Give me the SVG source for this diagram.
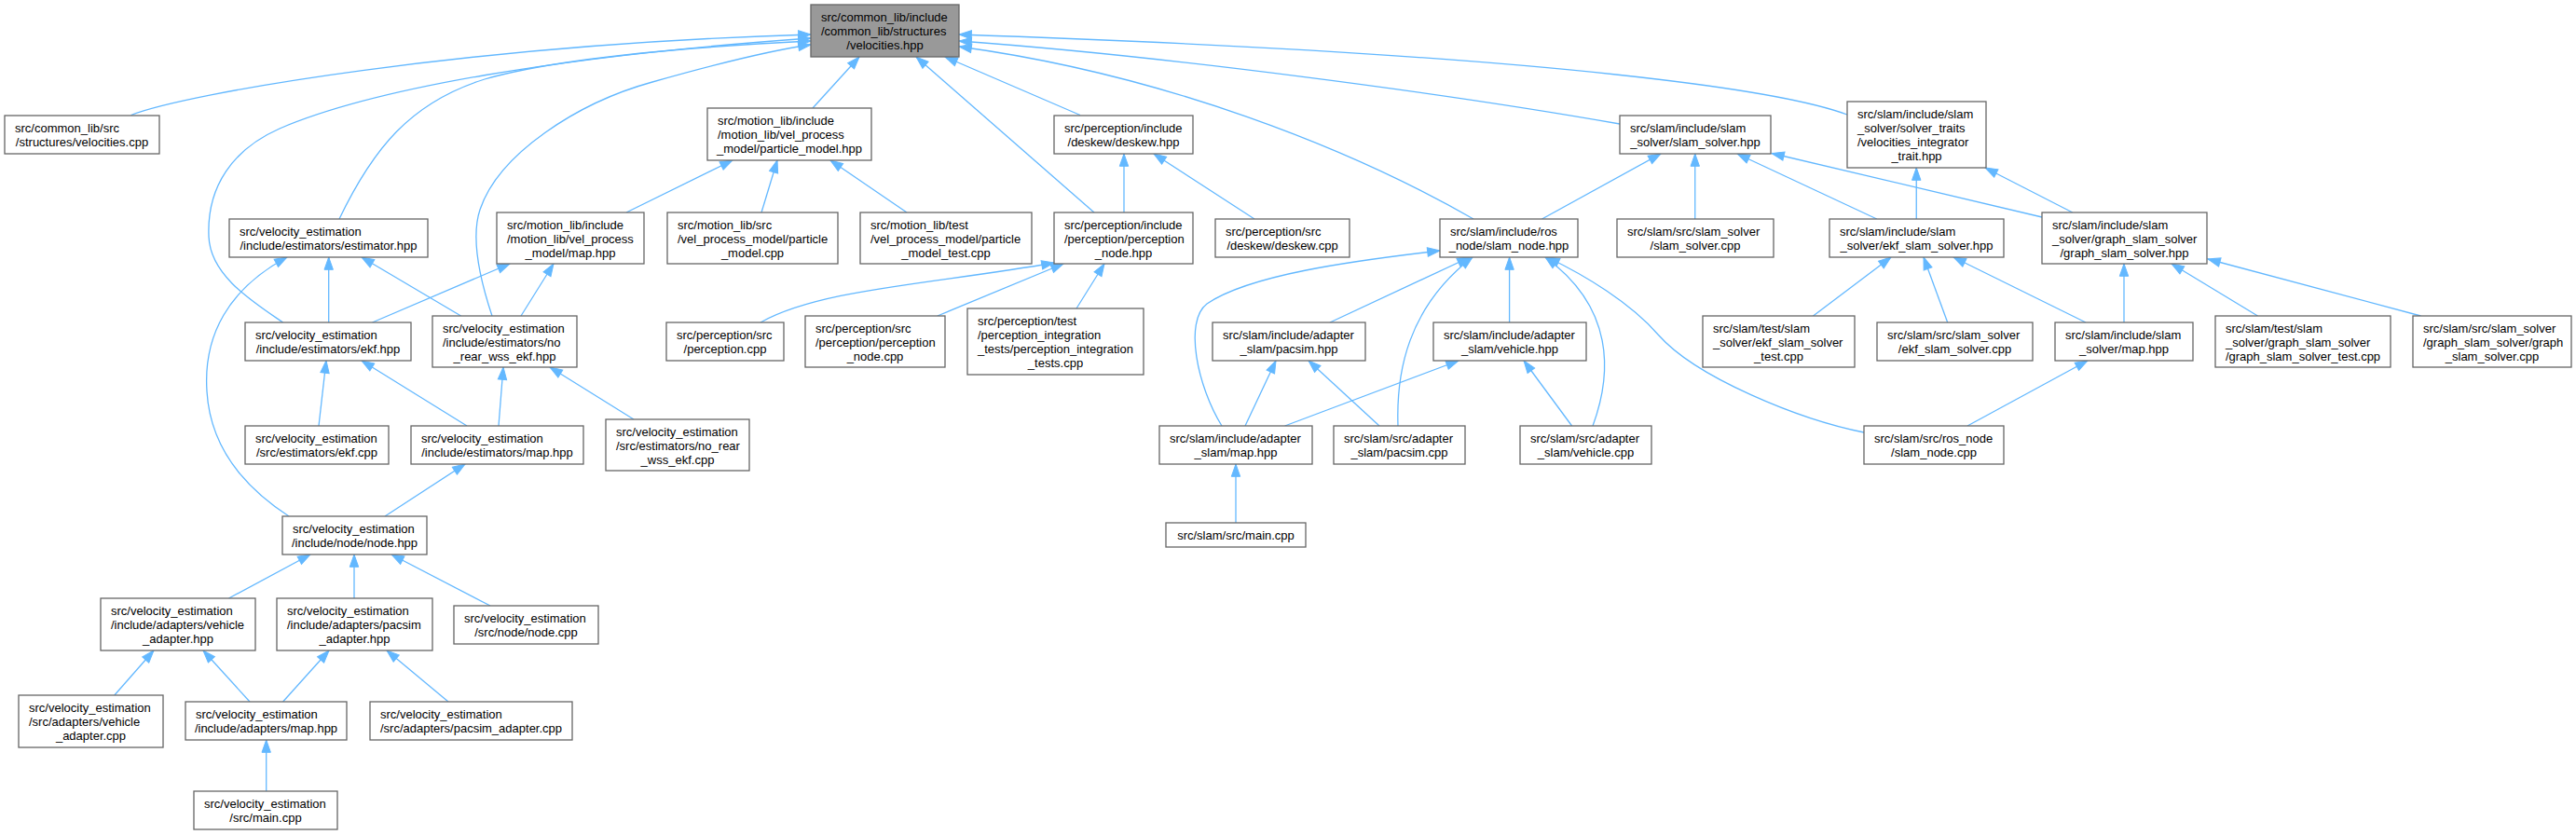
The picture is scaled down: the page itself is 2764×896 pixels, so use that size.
<svg xmlns="http://www.w3.org/2000/svg" width="2764" height="896" viewBox="0 0 2764 896">
<defs>
<style>
.n rect{fill:#ffffff;stroke:#666666;stroke-width:1.3}
.root rect{fill:#999999}
text{font-family:"Liberation Sans",Arial,Helvetica,sans-serif;font-size:13px;fill:#000000}
.c{text-anchor:middle}
.e path{fill:none;stroke:#63b8ff;stroke-width:1.3;marker-end:url(#ah)}
</style>
<marker id="ah" markerUnits="userSpaceOnUse" viewBox="0 0 13.3 9.4" markerWidth="13.3" markerHeight="9.4" refX="13.3" refY="4.7" orient="auto" overflow="visible"><path d="M0,0 L13.3,4.7 L0,9.4 Z" fill="#63b8ff" stroke="#63b8ff" stroke-width="1"/></marker>
</defs>
<rect width="2764" height="896" fill="#ffffff"/>
<g id="edges" class="e">
<path d="M140.6,123.5 C200,100 500,48 870,37"/>
<path d="M303.6,346 C270,323 225,295 224,253 C222,200 250,160 300,138 C400,95 600,60 870,41"/>
<path d="M364,235 C400,160 440,110 520,85 C600,62 750,50 870,44"/>
<path d="M528,339 C515,300 505,255 515,225 C535,165 620,110 700,88 C760,71 820,55 870,48"/>
<path d="M872,116 L922,61"/>
<path d="M1174,228 L983,61"/>
<path d="M1159,123.5 L1014,61"/>
<path d="M1581,235 C1450,160 1250,80 1029,50"/>
<path d="M1738,133 C1550,100 1250,60 1029,44"/>
<path d="M1982,123 C1920,100 1700,60 1029,37"/>
<path d="M672,228 L786,172"/>
<path d="M817,228 L834,172"/>
<path d="M973,228 L891,172"/>
<path d="M1206,228 L1206,165"/>
<path d="M1346,235 L1238,165"/>
<path d="M352.7,346 L352.7,276"/>
<path d="M494.6,339 L388,276"/>
<path d="M310,554 C250,515 225,470 222,420 C218,360 245,310 308,276"/>
<path d="M399.5,346 L547,283"/>
<path d="M559,339 L594,283"/>
<path d="M342,457 L350,387"/>
<path d="M501,457 L388,387"/>
<path d="M535,457 L540,394"/>
<path d="M680,450 L590,394"/>
<path d="M413,554 L499,498"/>
<path d="M245.5,642 L333,595"/>
<path d="M380,642 L380,595"/>
<path d="M526,650 L420,595"/>
<path d="M122.8,746 L165,698"/>
<path d="M268,753 L218,698"/>
<path d="M303.6,753 L353,698"/>
<path d="M481,753 L415,698"/>
<path d="M285.7,849 L285.7,794"/>
<path d="M816,346 C880,310 1000,305 1131,282"/>
<path d="M1005.8,339 L1141,283"/>
<path d="M1155,331 L1185,283"/>
<path d="M1654.5,235 L1782,165"/>
<path d="M1818.75,235 L1818.75,165"/>
<path d="M2013.8,235 L1864,165"/>
<path d="M2191,233 L1901,164.5"/>
<path d="M2056.25,235 L2056.25,180"/>
<path d="M2223.8,228 L2130,180"/>
<path d="M1311,457 C1285,415 1270,345 1295,326 C1340,295 1450,280 1545,269"/>
<path d="M1427,346 L1577,276"/>
<path d="M1500,457 C1498,400 1510,330 1580,276"/>
<path d="M1619.6,346 L1619.6,276"/>
<path d="M1709,457 C1730,400 1732,330 1658,276"/>
<path d="M2000,464 C1930,450 1820,405 1780,360 C1750,325 1700,295 1660,276"/>
<path d="M1336,457 L1369,387"/>
<path d="M1480,457 L1404,387"/>
<path d="M1378.6,457 L1565,387"/>
<path d="M1686.6,457 L1635,387"/>
<path d="M1326,561 L1326,498"/>
<path d="M1945.5,339 L2029,276"/>
<path d="M2089.7,346 L2064,276"/>
<path d="M2238,346 L2096,276"/>
<path d="M2279,346 L2279,283"/>
<path d="M2422.5,339 L2330,283"/>
<path d="M2597.5,339 L2369,278"/>
<path d="M2111,457 L2240,387"/>
</g>
<g id="root" class="n root"><rect x="870" y="5" width="159" height="56"/><text x="881" y="23">src/common_lib/include</text><text x="881" y="38">/common_lib/structures</text><text class="c" x="949.5" y="53">/velocities.hpp</text></g>
<g id="velocities_cpp" class="n"><rect x="5" y="124" width="166" height="41"/><text x="16" y="142">src/common_lib/src</text><text class="c" x="88" y="157">/structures/velocities.cpp</text></g>
<g id="estimator_hpp" class="n"><rect x="246" y="235" width="213" height="41"/><text x="257" y="253">src/velocity_estimation</text><text class="c" x="352.5" y="268">/include/estimators/estimator.hpp</text></g>
<g id="motion_map_hpp" class="n"><rect x="533" y="228" width="158" height="55"/><text x="544" y="246">src/motion_lib/include</text><text x="544" y="261">/motion_lib/vel_process</text><text class="c" x="612" y="276">_model/map.hpp</text></g>
<g id="particle_model_hpp" class="n"><rect x="759" y="116" width="176" height="56"/><text x="770" y="134">src/motion_lib/include</text><text x="770" y="149">/motion_lib/vel_process</text><text class="c" x="847" y="164">_model/particle_model.hpp</text></g>
<g id="deskew_hpp" class="n"><rect x="1131" y="124" width="149" height="41"/><text x="1142" y="142">src/perception/include</text><text class="c" x="1205.5" y="157">/deskew/deskew.hpp</text></g>
<g id="particle_model_cpp" class="n"><rect x="716" y="228" width="183" height="55"/><text x="727" y="246">src/motion_lib/src</text><text x="727" y="261">/vel_process_model/particle</text><text class="c" x="807.5" y="276">_model.cpp</text></g>
<g id="particle_model_test_cpp" class="n"><rect x="923" y="228" width="184" height="55"/><text x="934" y="246">src/motion_lib/test</text><text x="934" y="261">/vel_process_model/particle</text><text class="c" x="1015" y="276">_model_test.cpp</text></g>
<g id="perception_node_hpp" class="n"><rect x="1131" y="228" width="149" height="55"/><text x="1142" y="246">src/perception/include</text><text x="1142" y="261">/perception/perception</text><text class="c" x="1205.5" y="276">_node.hpp</text></g>
<g id="deskew_cpp" class="n"><rect x="1304" y="235" width="144" height="41"/><text x="1315" y="253">src/perception/src</text><text class="c" x="1376" y="268">/deskew/deskew.cpp</text></g>
<g id="slam_solver_hpp" class="n"><rect x="1738" y="124" width="162" height="41"/><text x="1749" y="142">src/slam/include/slam</text><text class="c" x="1819" y="157">_solver/slam_solver.hpp</text></g>
<g id="velocities_integrator_trait_hpp" class="n"><rect x="1982" y="109" width="149" height="71"/><text x="1993" y="127">src/slam/include/slam</text><text x="1993" y="142">_solver/solver_traits</text><text x="1993" y="157">/velocities_integrator</text><text class="c" x="2056.5" y="172">_trait.hpp</text></g>
<g id="slam_node_hpp" class="n"><rect x="1545" y="235" width="148" height="41"/><text x="1556" y="253">src/slam/include/ros</text><text class="c" x="1619" y="268">_node/slam_node.hpp</text></g>
<g id="slam_solver_cpp" class="n"><rect x="1735" y="235" width="168" height="41"/><text x="1746" y="253">src/slam/src/slam_solver</text><text class="c" x="1819" y="268">/slam_solver.cpp</text></g>
<g id="ekf_slam_solver_hpp" class="n"><rect x="1963" y="235" width="187" height="41"/><text x="1974" y="253">src/slam/include/slam</text><text class="c" x="2056.5" y="268">_solver/ekf_slam_solver.hpp</text></g>
<g id="graph_slam_solver_hpp" class="n"><rect x="2191" y="228" width="177" height="55"/><text x="2202" y="246">src/slam/include/slam</text><text x="2202" y="261">_solver/graph_slam_solver</text><text class="c" x="2279.5" y="276">/graph_slam_solver.hpp</text></g>
<g id="ekf_hpp" class="n"><rect x="263" y="346" width="178" height="41"/><text x="274" y="364">src/velocity_estimation</text><text class="c" x="352" y="379">/include/estimators/ekf.hpp</text></g>
<g id="no_rear_wss_ekf_hpp" class="n"><rect x="464" y="339" width="155" height="55"/><text x="475" y="357">src/velocity_estimation</text><text x="475" y="372">/include/estimators/no</text><text class="c" x="541.5" y="387">_rear_wss_ekf.hpp</text></g>
<g id="ekf_cpp" class="n"><rect x="263" y="457" width="154" height="41"/><text x="274" y="475">src/velocity_estimation</text><text class="c" x="340" y="490">/src/estimators/ekf.cpp</text></g>
<g id="estimators_map_hpp" class="n"><rect x="441" y="457" width="185" height="41"/><text x="452" y="475">src/velocity_estimation</text><text class="c" x="533.5" y="490">/include/estimators/map.hpp</text></g>
<g id="no_rear_wss_ekf_cpp" class="n"><rect x="650" y="450" width="154" height="55"/><text x="661" y="468">src/velocity_estimation</text><text x="661" y="483">/src/estimators/no_rear</text><text class="c" x="727" y="498">_wss_ekf.cpp</text></g>
<g id="node_hpp" class="n"><rect x="303" y="554" width="155" height="41"/><text x="314" y="572">src/velocity_estimation</text><text class="c" x="380.5" y="587">/include/node/node.hpp</text></g>
<g id="perception_cpp" class="n"><rect x="715" y="346" width="126" height="41"/><text x="726" y="364">src/perception/src</text><text class="c" x="778" y="379">/perception.cpp</text></g>
<g id="perception_node_cpp" class="n"><rect x="864" y="339" width="150" height="55"/><text x="875" y="357">src/perception/src</text><text x="875" y="372">/perception/perception</text><text class="c" x="939" y="387">_node.cpp</text></g>
<g id="perception_integration_tests_cpp" class="n"><rect x="1038" y="331" width="189" height="71"/><text x="1049" y="349">src/perception/test</text><text x="1049" y="364">/perception_integration</text><text x="1049" y="379">_tests/perception_integration</text><text class="c" x="1132.5" y="394">_tests.cpp</text></g>
<g id="adapter_slam_map_hpp" class="n"><rect x="1244" y="457" width="164" height="41"/><text x="1255" y="475">src/slam/include/adapter</text><text class="c" x="1326" y="490">_slam/map.hpp</text></g>
<g id="slam_main_cpp" class="n"><rect x="1251" y="561" width="150" height="26"/><text class="c" x="1326" y="579">src/slam/src/main.cpp</text></g>
<g id="pacsim_hpp" class="n"><rect x="1301" y="346" width="164" height="41"/><text x="1312" y="364">src/slam/include/adapter</text><text class="c" x="1383" y="379">_slam/pacsim.hpp</text></g>
<g id="vehicle_hpp" class="n"><rect x="1538" y="346" width="164" height="41"/><text x="1549" y="364">src/slam/include/adapter</text><text class="c" x="1620" y="379">_slam/vehicle.hpp</text></g>
<g id="pacsim_cpp" class="n"><rect x="1431" y="457" width="141" height="41"/><text x="1442" y="475">src/slam/src/adapter</text><text class="c" x="1501.5" y="490">_slam/pacsim.cpp</text></g>
<g id="vehicle_cpp" class="n"><rect x="1631" y="457" width="141" height="41"/><text x="1642" y="475">src/slam/src/adapter</text><text class="c" x="1701.5" y="490">_slam/vehicle.cpp</text></g>
<g id="ekf_slam_solver_test_cpp" class="n"><rect x="1827" y="339" width="163" height="55"/><text x="1838" y="357">src/slam/test/slam</text><text x="1838" y="372">_solver/ekf_slam_solver</text><text class="c" x="1908.5" y="387">_test.cpp</text></g>
<g id="ekf_slam_solver_cpp" class="n"><rect x="2014" y="346" width="167" height="41"/><text x="2025" y="364">src/slam/src/slam_solver</text><text class="c" x="2097.5" y="379">/ekf_slam_solver.cpp</text></g>
<g id="slam_node_cpp" class="n"><rect x="2000" y="457" width="150" height="41"/><text x="2011" y="475">src/slam/src/ros_node</text><text class="c" x="2075" y="490">/slam_node.cpp</text></g>
<g id="slam_solver_map_hpp" class="n"><rect x="2205" y="346" width="148" height="41"/><text x="2216" y="364">src/slam/include/slam</text><text class="c" x="2279" y="379">_solver/map.hpp</text></g>
<g id="graph_slam_solver_test_cpp" class="n"><rect x="2377" y="339" width="188" height="55"/><text x="2388" y="357">src/slam/test/slam</text><text x="2388" y="372">_solver/graph_slam_solver</text><text class="c" x="2471" y="387">/graph_slam_solver_test.cpp</text></g>
<g id="graph_slam_solver_cpp" class="n"><rect x="2589" y="339" width="170" height="55"/><text x="2600" y="357">src/slam/src/slam_solver</text><text x="2600" y="372">/graph_slam_solver/graph</text><text class="c" x="2674" y="387">_slam_solver.cpp</text></g>
<g id="vehicle_adapter_hpp" class="n"><rect x="108" y="642" width="166" height="56"/><text x="119" y="660">src/velocity_estimation</text><text x="119" y="675">/include/adapters/vehicle</text><text class="c" x="191" y="690">_adapter.hpp</text></g>
<g id="pacsim_adapter_hpp" class="n"><rect x="297" y="642" width="167" height="56"/><text x="308" y="660">src/velocity_estimation</text><text x="308" y="675">/include/adapters/pacsim</text><text class="c" x="380.5" y="690">_adapter.hpp</text></g>
<g id="node_cpp" class="n"><rect x="487" y="650" width="155" height="41"/><text x="498" y="668">src/velocity_estimation</text><text class="c" x="564.5" y="683">/src/node/node.cpp</text></g>
<g id="vehicle_adapter_cpp" class="n"><rect x="20" y="746" width="155" height="56"/><text x="31" y="764">src/velocity_estimation</text><text x="31" y="779">/src/adapters/vehicle</text><text class="c" x="97.5" y="794">_adapter.cpp</text></g>
<g id="adapters_map_hpp" class="n"><rect x="199" y="753" width="173" height="41"/><text x="210" y="771">src/velocity_estimation</text><text class="c" x="285.5" y="786">/include/adapters/map.hpp</text></g>
<g id="pacsim_adapter_cpp" class="n"><rect x="397" y="753" width="217" height="41"/><text x="408" y="771">src/velocity_estimation</text><text class="c" x="505.5" y="786">/src/adapters/pacsim_adapter.cpp</text></g>
<g id="ve_main_cpp" class="n"><rect x="208" y="849" width="154" height="41"/><text x="219" y="867">src/velocity_estimation</text><text class="c" x="285" y="882">/src/main.cpp</text></g>
</svg>
